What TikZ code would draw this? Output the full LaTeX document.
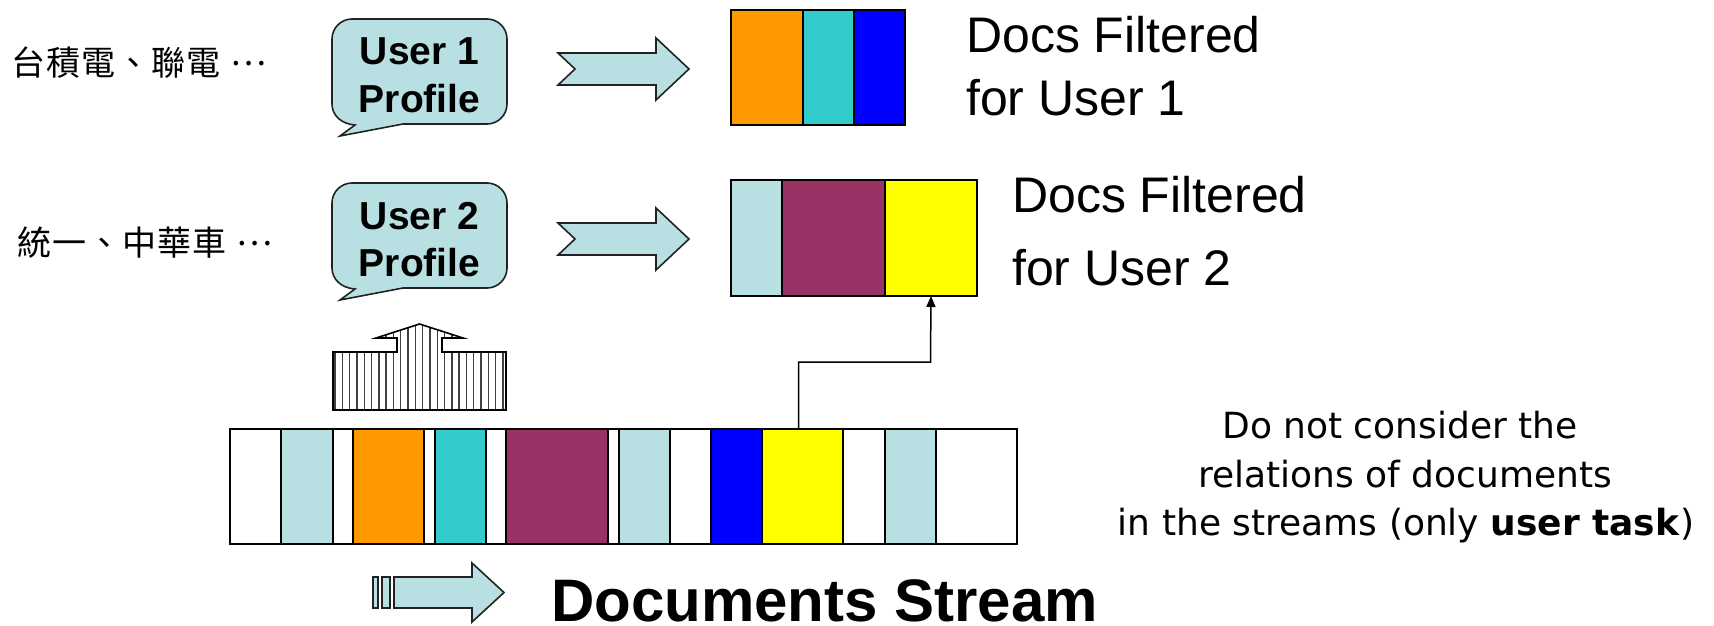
\documentclass[tikz,border=0pt]{standalone}
\usepackage{fontspec}
\setmainfont{Liberation Sans}
\newfontfamily\cjk{Noto Sans CJK TC}
\newfontfamily\comic{DejaVu Sans}
\usetikzlibrary{arrows.meta}
\definecolor{lblue}{HTML}{B8E0E3}
\definecolor{dorange}{HTML}{FF9900}
\definecolor{dcyan}{HTML}{33CCCC}
\definecolor{dblue}{HTML}{0000FF}
\definecolor{dpurple}{HTML}{993366}
\definecolor{dyellow}{HTML}{FFFF00}
\definecolor{edge}{HTML}{222222}
\newcommand\ck{\kern1pt}
\newcommand\midell{\raisebox{0.3em}{…}}
\begin{document}
\begin{tikzpicture}[x=1pt,y=-1pt,
  seg/.style={draw=black, line width=1.8pt, inner sep=0pt, outer sep=0pt, anchor=north west},
  bubble/.style={draw=edge, line width=1.6pt, fill=lblue},
  blockarrow/.style={draw=edge, line width=1.6pt, fill=lblue, line join=miter},
  btxt/.style={anchor=base, inner sep=0pt, font=\fontsize{39}{39}\selectfont\bfseries},
  dtxt/.style={anchor=base west, inner sep=0pt, font=\fontsize{50}{50}\selectfont},
  ctxt/.style={anchor=west, inner sep=0pt, font=\fontsize{34}{34}\selectfont\cjk},
  comictxt/.style={anchor=base, inner sep=0pt, font=\fontsize{36}{36}\selectfont\comic},
  conn/.style={draw=black, line width=1.5pt, -{Triangle[length=11pt,width=9pt]}}
]
\useasboundingbox (0,0) rectangle (1714,626);

% Chinese keyword labels
\node[ctxt] (k1) at (11,63) {台\ck 積\ck 電\ck 、\ck 聯\ck 電\kern10pt\midell};
\node[ctxt] (k2) at (17,243) {統\ck 一\ck 、\ck 中\ck 華\ck 車\kern10pt\midell};

% speech bubbles
\foreach \dy/\n in {0/1,164/2}{
  \begin{scope}[shift={(0,\dy)}]
    \draw[bubble] (340,136) -- (403,124) -- (487,124)
      .. controls (498,124) and (507,115) .. (507,104) -- (507,39)
      .. controls (507,28) and (498,19) .. (487,19) -- (352,19)
      .. controls (341,19) and (332,28) .. (332,39) -- (332,104)
      .. controls (332,115) and (341,124) .. (355,125) -- cycle;
  \end{scope}
}
\node[btxt] (u1a) at (419.5,65) {User 1};
\node[btxt] (u1b) at (419.5,112) {Profile};
\node[btxt] (u2a) at (419.5,229) {User 2};
\node[btxt] (u2b) at (419.5,276) {Profile};

% block arrows to filtered docs
\foreach \dy in {0,170}{
  \begin{scope}[shift={(0,\dy)}]
    \draw[blockarrow] (558,53) -- (656,53) -- (656,38) -- (689,69) -- (656,100)
      -- (656,85) -- (558,85) -- (575,69) -- cycle;
  \end{scope}
}

% filtered docs for user 1
\node[seg, fill=dorange, minimum width=72pt, minimum height=115pt] (a1) at (731,10) {};
\node[seg, fill=dcyan, minimum width=51pt, minimum height=115pt] (a2) at (803,10) {};
\node[seg, fill=dblue, minimum width=51pt, minimum height=115pt] (a3) at (854,10) {};
% filtered docs for user 2
\node[seg, fill=lblue, minimum width=51pt, minimum height=116pt] (b1) at (731,180) {};
\node[seg, fill=dpurple, minimum width=103pt, minimum height=116pt] (b2) at (782,180) {};
\node[seg, fill=dyellow, minimum width=92pt, minimum height=116pt] (b3) at (885,180) {};

\node[dtxt] (d1a) at (966,53) {Docs Filtered};
\node[dtxt] (d1b) at (966,115) {for User 1};
\node[dtxt] (d2a) at (1012,212) {Docs Filtered};
\node[dtxt] (d2b) at (1012,285) {for User 2};

% document stream
\foreach \a/\b/\c/\n in {230/281/white/1, 281/333/lblue/2, 333/353/white/3, 353/424/dorange/4,
  424/435/white/5, 435/486/dcyan/6, 486/506/white/7, 506/608/dpurple/8, 608/619/white/9,
  619/670/lblue/10, 670/711/white/11, 711/762/dblue/12, 762/843/dyellow/13, 843/885/white/14,
  885/936/lblue/15, 936/1017/white/16}{
  \node[seg, fill=\c, minimum width=\b pt-\a pt, minimum height=115pt] (s\n) at (\a,429) {};
}

% connector from stream to user 2 docs
\coordinate (bend) at (930.5,362);
\draw[conn] ([xshift=-4pt]s13.north) |- (bend) -- (b3.south);

% hatched up arrow
\begin{scope}
  \clip (333,352) -- (397,352) -- (397,338) -- (376,338) -- (419.5,324) -- (463,338)
    -- (442,338) -- (442,352) -- (506,352) -- (506,410) -- (333,410) -- cycle;
  \foreach \x in {335,342.3,...,506}{
    \draw[line width=1.4pt, black!75] (\x,320) -- (\x,412);
  }
\end{scope}
\draw[line width=1.6pt, black, line join=miter] (333,352) -- (397,352) -- (397,338) -- (376,338)
  -- (419.5,324) -- (463,338) -- (442,338) -- (442,352) -- (506,352) -- (506,410) -- (333,410) -- cycle;

% stream direction arrow
\draw[blockarrow] (373,577) rectangle (378,608);
\draw[blockarrow] (382,577) rectangle (390,608);
\draw[blockarrow] (394,577) -- (472,577) -- (472,563) -- (504,592.5) -- (472,622)
  -- (472,608) -- (394,608) -- cycle;
\node[anchor=base west, inner sep=0pt, text depth=0pt, font=\fontsize{60}{60}\selectfont\bfseries] (ds) at (551,621) {Documents Stream};

% note
\node[comictxt] (c1) at (1400,438) {Do not consider the};
\node[comictxt] (c2) at (1405,487) {relations of documents};
\node[comictxt] (c3) at (1406,535) {in the streams (only \textbf{user task})};
\end{tikzpicture}
\end{document}
